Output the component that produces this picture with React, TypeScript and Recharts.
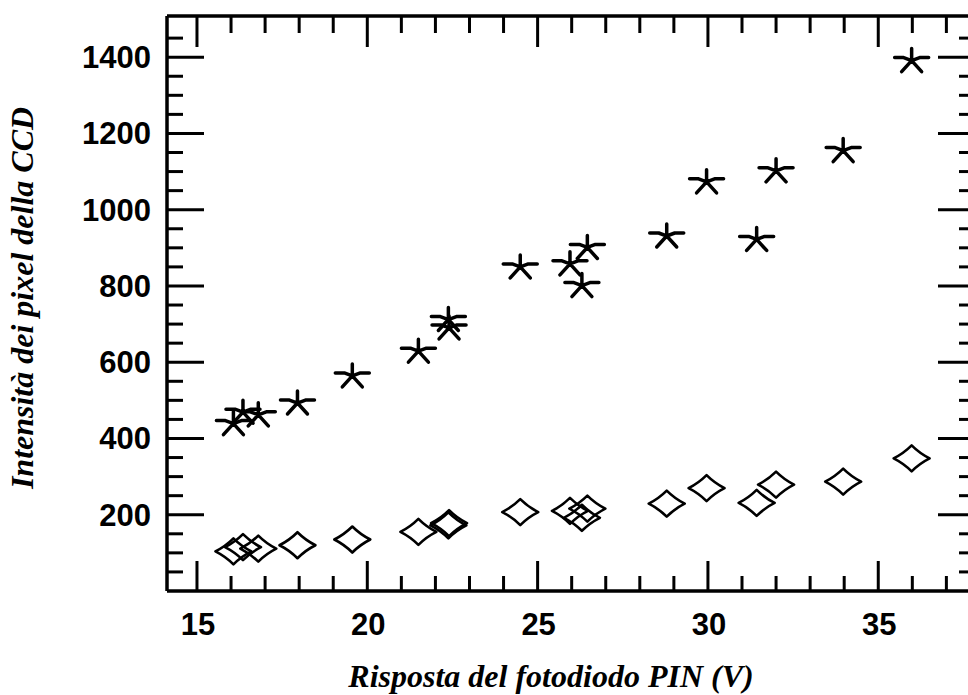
import { Scatter, ScatterChart, XAxis, YAxis } from "recharts";

// PIN photodiode response (V), one reading per exposure
const pinVolts = [
  16.07, 16.35, 16.8, 17.95, 19.56, 21.5, 22.38, 22.4, 24.49, 25.95, 26.3, 26.46,
  28.79, 29.96, 31.43, 32.0, 33.97, 35.98,
];
// CCD pixel intensity, upper series (asterisks)
const starCounts = [
  439, 469, 462, 493, 564, 629, 712, 690, 850, 858, 801, 901, 931, 1073, 922,
  1102, 1155, 1391,
];
// CCD pixel intensity, lower series (diamonds)
const diamondCounts = [
  104, 115, 111, 120, 135, 155, 172, 178, 207, 210, 192, 216, 229, 270, 231,
  279, 287, 348,
];

const xTicks = Array.from({ length: 23 }, (_, i) => 15 + i);
const yTicks = Array.from({ length: 29 }, (_, i) => 50 + i * 50);

const X_DOMAIN: [number, number] = [14.12, 37.84];
const Y_DOMAIN: [number, number] = [0, 1508];

const LABEL_FONT = "'Liberation Sans', Arial, Helvetica, sans-serif";
const TITLE_FONT = "'Liberation Serif', 'Times New Roman', serif";

const starData = pinVolts.map((x, i) => ({ x, y: starCounts[i] }));
const diamondData = pinVolts.map((x, i) => ({ x, y: diamondCounts[i] }));

const isMajorX = (v: number) => v % 5 === 0;
const isMajorY = (v: number) => v % 200 === 0;

const BottomTick = ({ x, y, payload }: any) => {
  const major = isMajorX(payload.value);
  return (
    <g>
      <line x1={x} y1={y} x2={x} y2={y - (major ? 30 : 15)} stroke="#000" strokeWidth={3} />
      {major ? (
        <text
          x={x + 1}
          y={y + 44}
          textAnchor="middle"
          fontFamily={LABEL_FONT}
          fontWeight="bold"
          fontSize={31}
          fill="#000"
        >
          {payload.value}
        </text>
      ) : null}
    </g>
  );
};

const TopTick = ({ x, y, payload }: any) => {
  const major = isMajorX(payload.value);
  return <line x1={x} y1={y} x2={x} y2={y + (major ? 31 : 17)} stroke="#000" strokeWidth={3} />;
};

const LeftTick = ({ x, y, payload }: any) => {
  const major = isMajorY(payload.value);
  return (
    <g>
      <line x1={x} y1={y} x2={x + (major ? 37 : 16)} y2={y} stroke="#000" strokeWidth={3} />
      {major ? (
        <text
          x={x - 16}
          y={y + 11}
          textAnchor="end"
          fontFamily={LABEL_FONT}
          fontWeight="bold"
          fontSize={31}
          fill="#000"
        >
          {payload.value}
        </text>
      ) : null}
    </g>
  );
};

const RightTick = ({ x, y, payload }: any) => {
  const major = isMajorY(payload.value);
  return <line x1={x - (major ? 37 : 16)} y1={y} x2={x} y2={y} stroke="#000" strokeWidth={3} />;
};

const StarShape = (props: any) => {
  const { cx, cy } = props;
  const d = [
    `M${cx},${cy} L${cx},${cy - 12}`,
    `M${cx},${cy} L${cx - 8},${cy - 3} L${cx - 17},${cy - 3}`,
    `M${cx},${cy} L${cx + 8},${cy - 3} L${cx + 17},${cy - 3}`,
    `M${cx},${cy} L${cx - 10},${cy + 11}`,
    `M${cx},${cy} L${cx + 10},${cy + 11}`,
  ].join(" ");
  return (
    <path
      d={d}
      stroke="#000"
      strokeWidth={3.5}
      strokeLinecap="round"
      strokeLinejoin="round"
      fill="none"
    />
  );
};

const DiamondShape = (props: any) => {
  const { cx, cy } = props;
  const d =
    `M${cx - 18},${cy} Q${cx - 8},${cy - 5} ${cx},${cy - 13} ` +
    `Q${cx + 8},${cy - 5} ${cx + 18},${cy} ` +
    `Q${cx + 8},${cy + 5} ${cx},${cy + 13} ` +
    `Q${cx - 8},${cy + 5} ${cx - 18},${cy} Z`;
  return <path d={d} stroke="#000" strokeWidth={2.6} strokeLinejoin="round" fill="none" />;
};

const frameLine = { stroke: "#000", strokeWidth: 3.5 };

const App = () => {
  return (
    <div
      style={{
        position: "absolute",
        left: 0,
        top: 0,
        width: 968,
        height: 695,
        overflow: "hidden",
        background: "#fff",
      }}
    >
      <ScatterChart
        width={1000}
        height={695}
        margin={{ top: 15, right: 24, bottom: 103, left: 166 }}
      >
        <XAxis
          xAxisId="bottom"
          dataKey="x"
          type="number"
          orientation="bottom"
          domain={X_DOMAIN}
          ticks={xTicks}
          interval={0}
          allowDataOverflow
          height={1}
          tickSize={0}
          tickMargin={0}
          tickLine={false}
          axisLine={frameLine}
          tick={BottomTick}
        />
        <XAxis
          xAxisId="top"
          dataKey="x"
          type="number"
          orientation="top"
          domain={X_DOMAIN}
          ticks={xTicks}
          interval={0}
          allowDataOverflow
          height={1}
          tickSize={0}
          tickMargin={0}
          tickLine={false}
          axisLine={frameLine}
          tick={TopTick}
        />
        <YAxis
          yAxisId="left"
          dataKey="y"
          type="number"
          orientation="left"
          domain={Y_DOMAIN}
          ticks={yTicks}
          interval={0}
          allowDataOverflow
          width={1}
          tickSize={0}
          tickMargin={0}
          tickLine={false}
          axisLine={frameLine}
          tick={LeftTick}
        />
        <YAxis
          yAxisId="right"
          dataKey="y"
          type="number"
          orientation="right"
          domain={Y_DOMAIN}
          ticks={yTicks}
          interval={0}
          allowDataOverflow
          width={1}
          tickSize={0}
          tickMargin={0}
          tickLine={false}
          axisLine={frameLine}
          tick={RightTick}
        />
        <Scatter
          name="asterischi"
          data={starData}
          xAxisId="bottom"
          yAxisId="left"
          shape={StarShape}
          isAnimationActive={false}
        />
        <Scatter
          name="rombi"
          data={diamondData}
          xAxisId="bottom"
          yAxisId="left"
          shape={DiamondShape}
          isAnimationActive={false}
        />
      </ScatterChart>
      <svg
        width={968}
        height={695}
        style={{ position: "absolute", left: 0, top: 0, pointerEvents: "none" }}
      >
        <text
          x={551}
          y={687}
          textAnchor="middle"
          fontFamily={TITLE_FONT}
          fontStyle="italic"
          fontWeight="bold"
          fontSize={32}
          fill="#000"
        >
          Risposta del fotodiodo PIN (V)
        </text>
        <text
          transform="translate(33,298) rotate(-90)"
          textAnchor="middle"
          fontFamily={TITLE_FONT}
          fontStyle="italic"
          fontWeight="bold"
          fontSize={32}
          fill="#000"
        >
          Intensità dei pixel della CCD
        </text>
      </svg>
    </div>
  );
};

export default App;
